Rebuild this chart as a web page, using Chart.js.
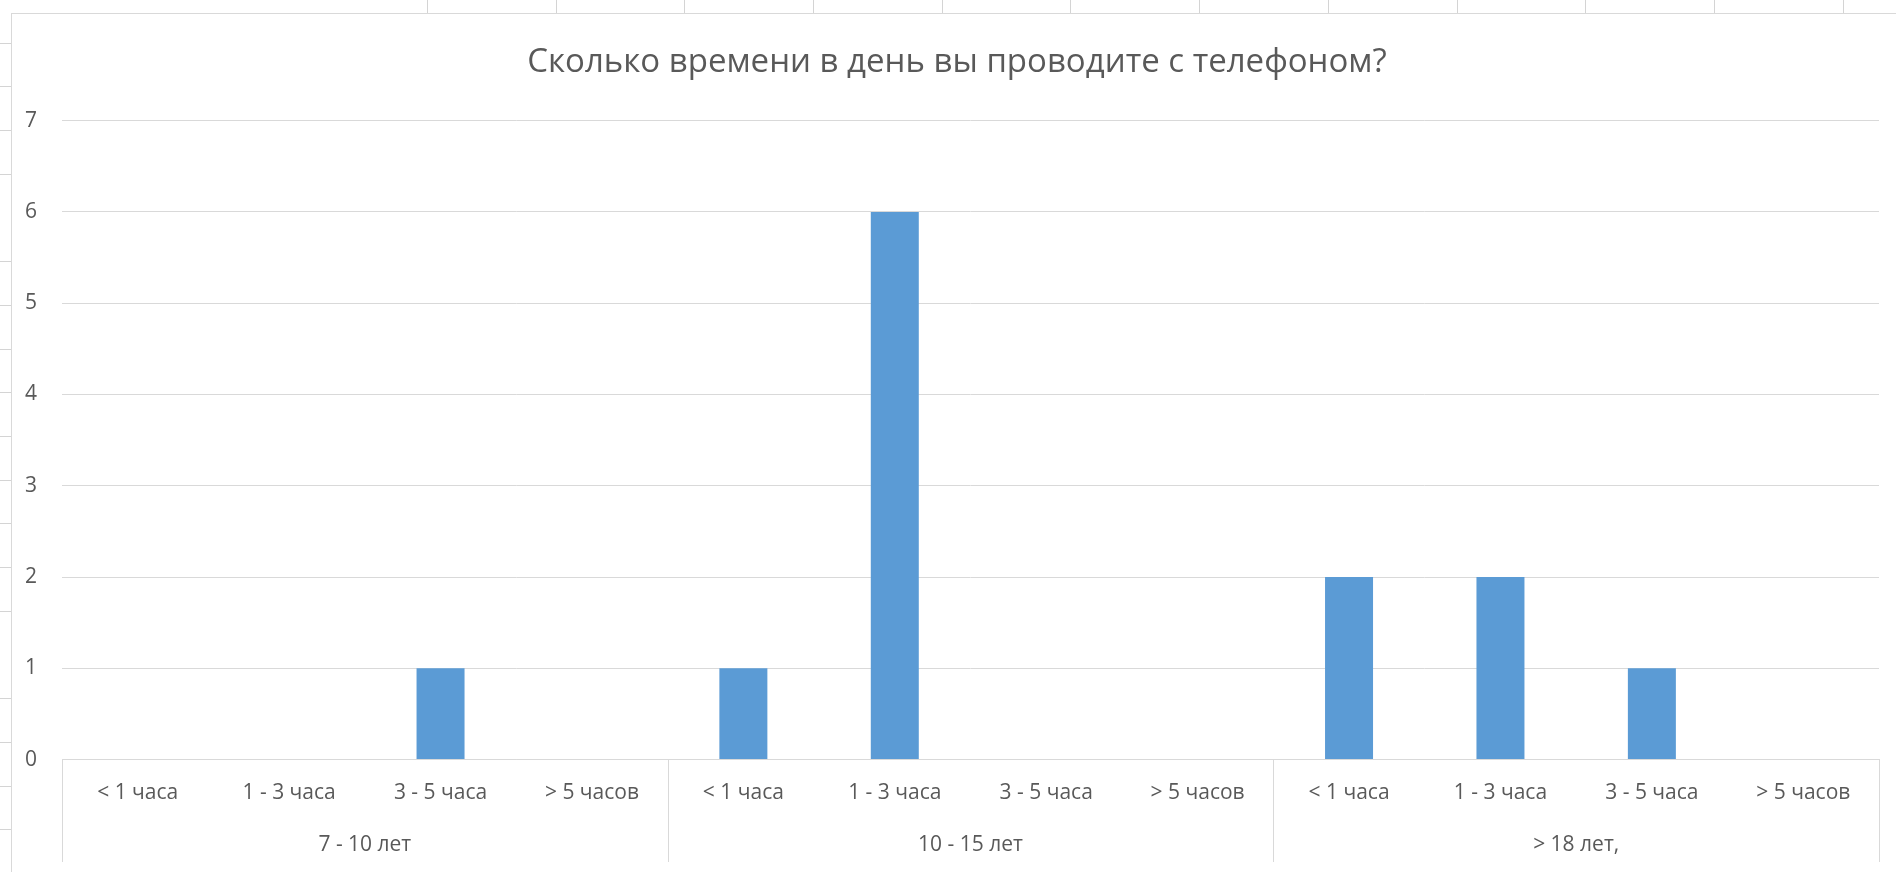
<!DOCTYPE html>
<html>
<head>
<meta charset="utf-8">
<script src="https://cdn.jsdelivr.net/npm/chart.js@4"></script>
<style>
  html, body { margin: 0; padding: 0; width: 1896px; height: 872px; overflow: hidden; background: #fff; }
  /* excel sheet grid around the chart */
  .topstrip { position: absolute; left: 427px; top: 0; width: 1469px; height: 13px;
    background: repeating-linear-gradient(to right, #d4d4d4 0, #d4d4d4 1px, transparent 1px, transparent 128.7px); }
  .leftstrip { position: absolute; left: 0; top: 0; width: 11px; height: 872px;
    background: repeating-linear-gradient(to bottom, transparent 0, transparent 42.7px, #d4d4d4 42.7px, #d4d4d4 43.7px); }
  .chartbox { position: absolute; left: 11px; top: 13px; width: 1890px; height: 859px;
    border-left: 1px solid #d9d9d9; border-top: 1px solid #d9d9d9; background: #fff; }
  .chartbox canvas { position: absolute; left: 0; top: 0; }
</style>
</head>
<body>
<div class="topstrip"></div>
<div class="leftstrip"></div>
<div class="chartbox">
  <canvas id="chart-canvas" width="1890" height="850"></canvas>
</div>
<script>
// подкатегории (время с телефоном) по возрастным группам
const subCategories = [
  '< 1 часа', '1 - 3 часа', '3 - 5 часа', '> 5 часов',
  '< 1 часа', '1 - 3 часа', '3 - 5 часа', '> 5 часов',
  '< 1 часа', '1 - 3 часа', '3 - 5 часа', '> 5 часов'
];
const ageGroups = ['7 - 10 лет', '10 - 15 лет', '> 18 лет,'];
const counts = [0, 0, 1, 0, 1, 6, 0, 0, 2, 2, 1, 0];
const yMin = 0;
const yMax = 7;
const yStep = 1;
const chartTitle = 'Сколько времени в день вы проводите с телефоном?';

const groupSize = subCategories.length / ageGroups.length;
const textColor = '#595959';
const lineColor = '#d9d9d9';
const fontFamily = "'Open Sans', sans-serif";

// вертикальные разделители групп под осью X
const groupLines = {
  id: 'groupLines',
  afterDraw(chart) {
    const x = chart.scales.x;
    const x2 = chart.scales.x2;
    const ctx = chart.ctx;
    ctx.save();
    ctx.strokeStyle = lineColor;
    ctx.lineWidth = 1;
    for (let i = 0; i <= subCategories.length; i += groupSize) {
      const px = Math.round(x.getPixelForValue(i - 0.5)) + 0.5;
      ctx.beginPath();
      ctx.moveTo(px, x.top);
      ctx.lineTo(px, x2.bottom - 2);
      ctx.stroke();
    }
    ctx.restore();
  }
};

const ctx = document.getElementById('chart-canvas').getContext('2d');
new Chart(ctx, {
  type: 'bar',
  data: {
    labels: subCategories,
    datasets: [{
      data: counts,
      backgroundColor: '#5b9bd5',
      borderWidth: 0,
      categoryPercentage: 1,
      barPercentage: 0.317
    }]
  },
  options: {
    responsive: false,
    animation: false,
    layout: { padding: { left: 0, right: 0, top: 0, bottom: 0 } },
    plugins: {
      legend: { display: false },
      tooltip: { enabled: false },
      title: {
        display: true,
        text: chartTitle,
        color: textColor,
        font: { family: fontFamily, size: 33, weight: 'normal' },
        padding: { top: 29, bottom: 38 }
      }
    },
    scales: {
      y: {
        min: yMin,
        max: yMax,
        ticks: { stepSize: yStep, color: textColor, padding: 25, font: { family: fontFamily, size: 21 } },
        grid: { color: lineColor, drawTicks: false },
        border: { display: false },
        afterFit(scale) { scale.width = 50; }
      },
      // пустая правая ось — только отступ справа от области графика
      yRight: {
        position: 'right',
        ticks: { display: false },
        grid: { display: false, drawTicks: false },
        border: { display: false },
        afterFit(scale) { scale.width = 23; }
      },
      x: {
        weight: 0,
        ticks: { color: textColor, padding: 21, font: { family: fontFamily, size: 21 } },
        grid: { display: false, drawTicks: false },
        border: { display: true, color: lineColor }
      },
      x2: {
        type: 'category',
        position: 'bottom',
        weight: 1,
        labels: ageGroups,
        offset: true,
        ticks: { color: textColor, padding: 6, font: { family: fontFamily, size: 21 } },
        grid: { display: false, drawTicks: false },
        border: { display: false }
      }
    }
  },
  plugins: [groupLines]
});
</script>
</body>
</html>
